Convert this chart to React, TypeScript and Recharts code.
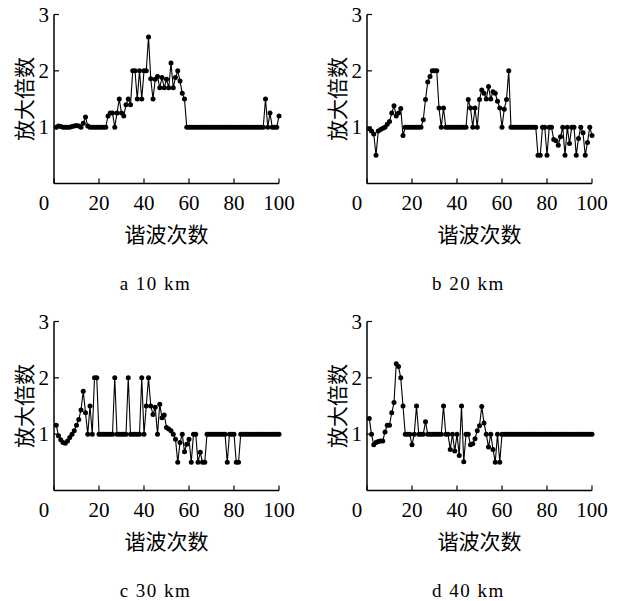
import { LineChart, Line, XAxis, YAxis } from "recharts";

// amplification factor per harmonic order (1..100)
const ampA = [
  1.0, 1.02, 1.01, 1.0, 1.0, 1.0, 1.0, 1.01, 1.02, 1.03,
  1.02, 1.0, 1.07, 1.18, 1.02, 1.0, 1.0, 1.0, 1.0, 1.0,
  1.0, 1.0, 1.0, 1.2, 1.25, 1.25, 1.0, 1.25, 1.5, 1.25,
  1.2, 1.4, 1.5, 1.4, 2.0, 2.0, 1.5, 2.0, 1.5, 2.0,
  2.0, 2.6, 1.86, 1.5, 1.85, 1.9, 1.7, 1.88, 1.7, 1.85,
  1.7, 2.14, 1.7, 1.88, 2.0, 1.82, 1.6, 1.5, 1.0, 1.0,
  1.0, 1.0, 1.0, 1.0, 1.0, 1.0, 1.0, 1.0, 1.0, 1.0,
  1.0, 1.0, 1.0, 1.0, 1.0, 1.0, 1.0, 1.0, 1.0, 1.0,
  1.0, 1.0, 1.0, 1.0, 1.0, 1.0, 1.0, 1.0, 1.0, 1.0,
  1.0, 1.0, 1.0, 1.5, 1.0, 1.25, 1.0, 1.0, 1.0, 1.2,
];

const ampB = [
  0.97, 0.93, 0.88, 0.5, 0.93, 0.96, 0.98, 1.0, 1.05, 1.1,
  1.25, 1.38, 1.2, 1.25, 1.33, 0.85, 1.0, 1.0, 1.0, 1.0,
  1.0, 1.0, 1.0, 1.0, 1.13, 1.49, 1.8, 1.9, 2.0, 2.0,
  2.0, 1.34, 1.0, 1.34, 1.0, 1.0, 1.0, 1.0, 1.0, 1.0,
  1.0, 1.0, 1.0, 1.0, 1.49, 1.34, 1.0, 1.34, 1.0, 1.49,
  1.66, 1.6, 1.5, 1.72, 1.5, 1.63, 1.6, 1.46, 1.34, 1.0,
  1.32, 1.49, 2.0, 1.0, 1.0, 1.0, 1.0, 1.0, 1.0, 1.0,
  1.0, 1.0, 1.0, 1.0, 1.0, 0.5, 0.5, 1.0, 1.0, 0.5,
  1.0, 1.0, 0.78, 0.76, 0.68, 0.83, 1.0, 0.5, 1.0, 0.71,
  1.0, 1.0, 0.5, 0.8, 1.0, 0.9, 0.5, 0.73, 1.0, 0.85,
];

const ampC = [
  1.16, 0.97, 0.9, 0.85, 0.84, 0.88, 0.94, 1.0, 1.06, 1.16,
  1.26, 1.43, 1.76, 1.38, 1.0, 1.5, 1.0, 2.0, 2.0, 1.0,
  1.0, 1.0, 1.0, 1.0, 1.0, 1.0, 2.0, 1.0, 1.0, 1.0,
  1.0, 1.0, 2.0, 1.0, 1.0, 1.0, 1.0, 1.0, 2.0, 1.0,
  1.5, 2.0, 1.5, 1.35, 1.48, 1.0, 1.53, 1.29, 1.34, 1.12,
  1.09, 1.06, 1.0, 0.91, 0.5, 0.85, 1.0, 0.69, 0.82, 0.91,
  0.5, 1.0, 1.0, 0.5, 0.68, 0.5, 0.5, 1.0, 1.0, 1.0,
  1.0, 1.0, 1.0, 1.0, 1.0, 1.0, 0.5, 1.0, 1.0, 1.0,
  0.5, 0.5, 1.0, 1.0, 1.0, 1.0, 1.0, 1.0, 1.0, 1.0,
  1.0, 1.0, 1.0, 1.0, 1.0, 1.0, 1.0, 1.0, 1.0, 1.0,
];

const ampD = [
  1.28, 1.0, 0.81, 0.85, 0.87, 0.88, 0.88, 1.04, 1.16, 1.16,
  1.38, 1.56, 2.25, 2.2, 2.0, 1.5, 1.0, 1.0, 1.0, 0.81,
  1.0, 1.5, 1.0, 1.0, 1.0, 1.22, 1.0, 1.0, 1.0, 1.0,
  1.0, 1.0, 1.0, 1.5, 1.0, 1.0, 0.73, 1.0, 0.7, 1.0,
  0.62, 1.5, 0.51, 1.0, 1.0, 0.81, 0.83, 0.92, 1.06, 1.15,
  1.49, 1.2, 1.0, 0.77, 1.0, 0.73, 0.5, 1.0, 0.5, 1.0,
  1.0, 1.0, 1.0, 1.0, 1.0, 1.0, 1.0, 1.0, 1.0, 1.0,
  1.0, 1.0, 1.0, 1.0, 1.0, 1.0, 1.0, 1.0, 1.0, 1.0,
  1.0, 1.0, 1.0, 1.0, 1.0, 1.0, 1.0, 1.0, 1.0, 1.0,
  1.0, 1.0, 1.0, 1.0, 1.0, 1.0, 1.0, 1.0, 1.0, 1.0,
];

const xTicks = [0, 20, 40, 60, 80, 100];
const yTicks = [1, 2, 3];
const xTitle = "谐波次数";
const yTitle = "放大倍数";

const panels = [
  { values: ampA, caption: "a 10 km", left: 0, top: 0 },
  { values: ampB, caption: "b 20 km", left: 313, top: 0 },
  { values: ampC, caption: "c 30 km", left: 0, top: 307 },
  { values: ampD, caption: "d 40 km", left: 313, top: 307 },
];

const SERIF = "'Liberation Serif', 'Times New Roman', serif";
const CJK = "'Noto Sans CJK SC', sans-serif";

// panel geometry: plot area starts at x=54, y=14.5 inside each panel
const W = 300;
const H = 300;
const Y_AXIS_W = 30;
const X_AXIS_H = 30;
const PLOT_LEFT = 54;
const PLOT_TOP = 14.5;
const PLOT_BOTTOM = 183.5;
const M = { top: PLOT_TOP, right: 21, bottom: H - PLOT_BOTTOM - X_AXIS_H, left: PLOT_LEFT - Y_AXIS_W };
const plotW = W - PLOT_LEFT - M.right;
const plotH = PLOT_BOTTOM - PLOT_TOP;

function XTick({ x, y, payload }: any) {
  // the 0 label sits left of the origin in the original
  const shift = payload.value === 0 ? -10 : 0;
  return (
    <g>
      <line x1={x} y1={y} x2={x} y2={y - 5} stroke="#000" strokeWidth={1.2} />
      <text x={x + shift} y={y + 26} textAnchor="middle" fontFamily={SERIF} fontSize={21} fill="#000">
        {payload.value}
      </text>
    </g>
  );
}

function YTick({ x, y, payload }: any) {
  return (
    <g>
      <line x1={x} y1={y} x2={x + 5} y2={y} stroke="#000" strokeWidth={1.2} />
      <text x={x - 5} y={y} textAnchor="end" dominantBaseline="central" fontFamily={SERIF} fontSize={21} fill="#000">
        {payload.value}
      </text>
    </g>
  );
}

function Panel({ values, caption, left, top }: { values: number[]; caption: string; left: number; top: number }) {
  const data = values.map((v, i) => ({ n: i + 1, v }));
  return (
    <div style={{ position: "absolute", left, top, width: W, height: H }}>
      <LineChart width={W} height={H} data={data} margin={M}>
        <XAxis
          type="number"
          dataKey="n"
          domain={[0, 100]}
          ticks={xTicks}
          interval={0}
          height={X_AXIS_H}
          tickSize={0}
          tickMargin={0}
          tickLine={false}
          axisLine={{ stroke: "#000", strokeWidth: 1.5 }}
          tick={(p: any) => <XTick {...p} />}
        />
        <YAxis
          type="number"
          domain={[0, 3]}
          ticks={yTicks}
          interval={0}
          width={Y_AXIS_W}
          tickSize={0}
          tickMargin={0}
          tickLine={false}
          axisLine={{ stroke: "#000", strokeWidth: 1.5 }}
          tick={(p: any) => <YTick {...p} />}
        />
        <Line
          type="linear"
          dataKey="v"
          stroke="#000"
          strokeWidth={1.1}
          dot={{ r: 2.5, fill: "#000", stroke: "#000", strokeWidth: 0 }}
          isAnimationActive={false}
        />
      </LineChart>
      <div
        style={{
          position: "absolute",
          left: PLOT_LEFT - 31 - 60,
          top: PLOT_TOP + plotH / 2 - 14,
          width: 120,
          height: 28,
          lineHeight: "28px",
          textAlign: "center",
          transform: "rotate(-90deg)",
          fontFamily: CJK,
          fontSize: 21,
          color: "#000",
        }}
      >
        {yTitle}
      </div>
      <div
        style={{
          position: "absolute",
          left: PLOT_LEFT,
          top: PLOT_BOTTOM + 49 - 14,
          width: plotW,
          height: 28,
          lineHeight: "28px",
          textAlign: "center",
          fontFamily: CJK,
          fontSize: 21,
          color: "#000",
        }}
      >
        {xTitle}
      </div>
      <div
        style={{
          position: "absolute",
          left: PLOT_LEFT - 11,
          top: PLOT_BOTTOM + 90,
          width: plotW,
          height: 20,
          lineHeight: "20px",
          textAlign: "center",
          fontFamily: SERIF,
          fontSize: 19,
          letterSpacing: 1.5,
          color: "#000",
        }}
      >
        {caption}
      </div>
    </div>
  );
}

export default function App() {
  return (
    <div style={{ position: "absolute", left: 0, top: 0, width: 617, height: 601, background: "#fff" }}>
      {panels.map((p) => (
        <Panel key={p.caption} {...p} />
      ))}
    </div>
  );
}
